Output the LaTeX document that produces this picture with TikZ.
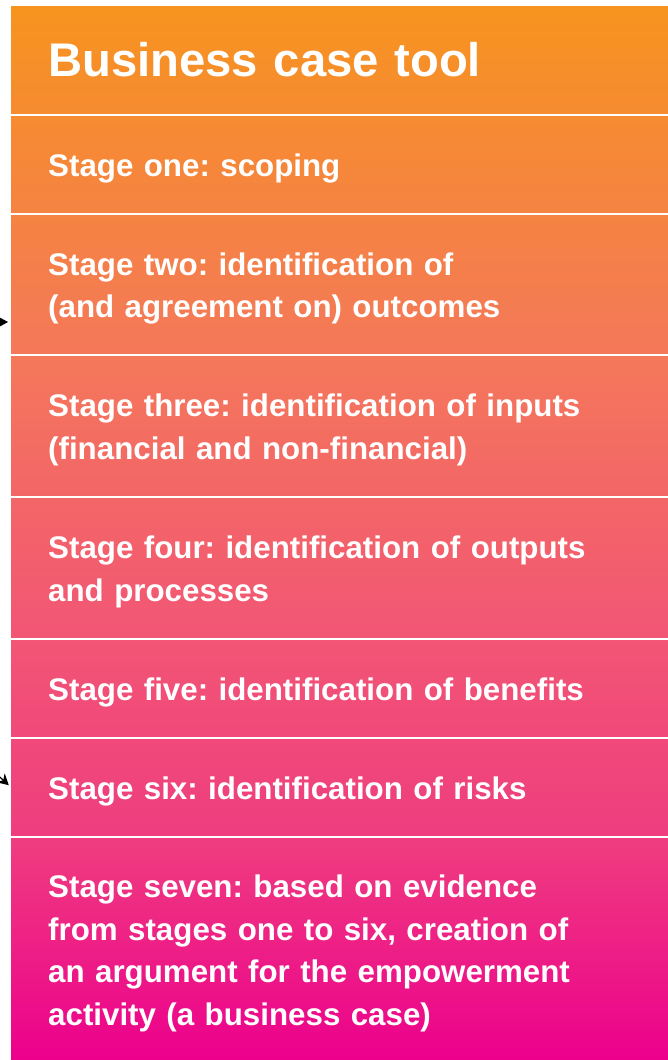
\documentclass[tikz,border=0pt]{standalone}
\usepackage{fontspec}
\setmainfont{Liberation Sans}
\usetikzlibrary{arrows.meta}
\usepackage{xcolor}

\definecolor{caseA}{HTML}{F7941E}
\definecolor{caseB}{HTML}{F68B31}
\definecolor{caseC}{HTML}{F58342}
\definecolor{caseD}{HTML}{F4785A}
\definecolor{caseE}{HTML}{F36667}
\definecolor{caseF}{HTML}{F25575}
\definecolor{caseG}{HTML}{F0497A}
\definecolor{caseH}{HTML}{EF3D7F}
\definecolor{caseI}{HTML}{EC008C}

\begin{document}
\frenchspacing
\begin{tikzpicture}[x=1pt, y=1pt, every node/.style={
    rectangle,
    anchor=north west,
    inner xsep=37pt,
    inner ysep=0pt,
    text width=583pt,
    align=left,
    text=white,
    execute at begin node={\rule{0pt}{31pt}},
    font=\bfseries\fontsize{31.3}{42.5}\selectfont
}]

\useasboundingbox (0, 0) rectangle (668, -1060);
\clip (0, 0) rectangle (668, -1060);



    \node (business_case_tool) [minimum height=107pt, top color=caseA, bottom color=caseB, font=\bfseries\fontsize{47.2}{57}\selectfont, shift={(11, -6)}]
    {
        Business case tool
    };

    \node (stage_one) [minimum height=96pt, top color=caseB, bottom color=caseC, shift={(11, -116)}]
    {
        Stage one: scoping
    };

    \node (stage_two) [minimum height=138pt, top color=caseC, bottom color=caseD, shift={(11, -215)}]
    {
        Stage two: identification of\\
        (and agreement on) outcomes
    };

    \node (stage_three) [minimum height=139pt, top color=caseD, bottom color=caseE, shift={(11, -356)}]
    {
        Stage three: identification of inputs\\
        (financial and non-financial)
    };

    \node (stage_four) [minimum height=139pt, top color=caseE, bottom color=caseF, shift={(11, -498)}]
    {
        Stage four: identification of outputs\\
        and processes
    };

    \node (stage_five) [minimum height=96pt, top color=caseF, bottom color=caseG, shift={(11, -640)}]
    {
        Stage five: identification of benefits
    };

    \node (stage_six) [minimum height=96pt, top color=caseG, bottom color=caseH, shift={(11, -739)}]
    {
        Stage six: identification of risks
    };

    \node (stage_seven) [minimum height=222pt, top color=caseH, bottom color=caseI, shift={(11, -838)}]
    {
        Stage seven: based on evidence\\
        from stages one to six, creation of\\
        an argument for the empowerment\\
        activity (a business case)
    };



    \coordinate (arrow_in_two) at (-40, -322);
    \coordinate (arrow_in_six) at (-30, -750);

    \draw[-{Stealth[length=11pt, width=12pt]}, black, line width=1.2pt, shorten >=3pt] (arrow_in_two) to (stage_two.west |- arrow_in_two);
    \draw[-{Stealth[length=11pt, width=12pt]}, black, line width=1.2pt, shorten >=3pt] (arrow_in_six) to (stage_six.west);


\end{tikzpicture}
\end{document}
